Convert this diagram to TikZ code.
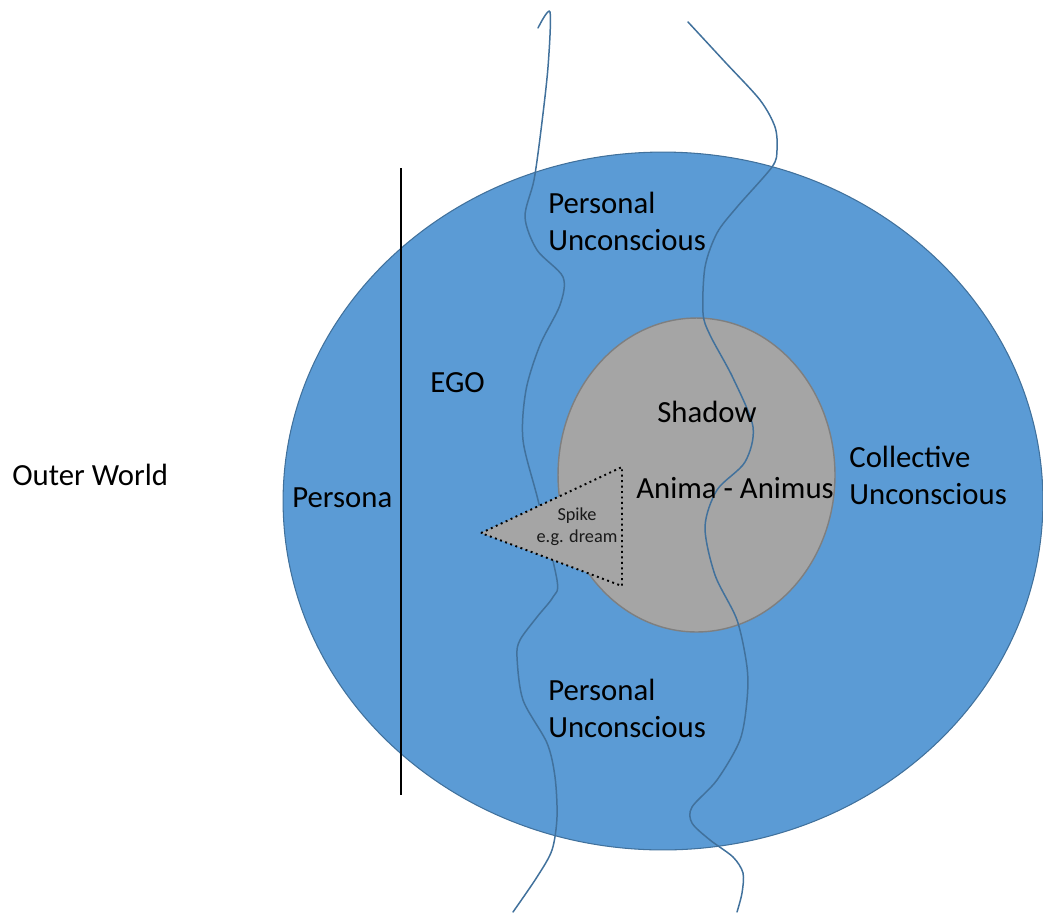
\documentclass[tikz,border=0pt]{standalone}
\usepackage{fontspec}
\setmainfont{Carlito}
\usetikzlibrary{shapes.geometric}
\definecolor{psyche}{HTML}{5B9BD5}
\definecolor{psycheedge}{HTML}{41719C}
\definecolor{core}{HTML}{A5A5A5}
\definecolor{coreedge}{HTML}{7F7F7F}
\tikzset{
  label text/.style={inner sep=0pt, align=left, font=\fontsize{17.5}{21}\selectfont, text=black},
  small text/.style={inner sep=0pt, align=center, font=\fontsize{10.4}{12.5}\selectfont, text=black!90},
  stream/.style={draw=psycheedge, line width=0.85pt, line cap=round},
  boundary/.style={draw=black, line width=1.2pt}
}
\begin{document}
\begin{tikzpicture}[x=0.02cm, y=-0.02cm]
  \useasboundingbox (0,0) rectangle (1043,913);

  % the psyche and its inner core
  \node (psyche) [ellipse, fill=psyche, draw=psycheedge, line width=0.6pt,
        minimum width=15.2cm, minimum height=13.96cm, inner sep=0pt] at (663,501) {};
  \node (core) [ellipse, fill=core, draw=coreedge, line width=0.8pt,
        minimum width=5.54cm, minimum height=6.28cm, inner sep=0pt] at (696.5,475) {};

  % streams running through the psyche
  \draw[stream] plot[smooth, tension=0.5] coordinates {
    (538,28) (550,12) (548,67) (541,130) (534,180) (525,217) (537,250) (563,277)
    (560,305) (540,345) (526,390) (523,440) (538,500) (557,580) (553,597)
    (537,617) (520,640) (517,657) (523,700) (547,743) (555,777) (557,817)
    (552,850) (537,877) (513,912)};
  \draw[stream] plot[smooth, tension=0.5] coordinates {
    (688,22) (725,62) (760,100) (775,127) (777,150) (772,167) (737,207)
    (717,233) (705,267) (703,313) (710,335) (733,378) (753,427) (745,462)
    (717,490) (705,527) (715,575) (737,620) (747,667) (747,700) (740,740)
    (717,780) (692,807) (692,823) (710,840) (733,857) (743,873) (742,893)
    (737,912)};

  % spike reaching out from the core
  \coordinate (tip) at (481,533);
  \coordinate (upper) at (622,467);
  \coordinate (lower) at (622,586);
  \draw[fill=core, draw=black, line width=1.1pt, dotted] (tip) -- (upper) -- (lower) -- cycle;
  \node (spike) [small text] at (577,527) {Spike\\ e.g. dream};

  % persona boundary
  \coordinate (persona top) at (401,168);
  \coordinate (persona bottom) at (401,795);
  \draw[boundary] (persona top) -- (persona bottom);

  % labels
  \node (outer) [label text, anchor=west] at (12,475) {Outer World};
  \node (persona) [label text, anchor=west] at (292,498) {Persona};
  \node (ego) [label text, anchor=west] at (430,383) {EGO};
  \node (pu top) [label text, anchor=west] at (548,221) {Personal\\Unconscious};
  \node (pu bottom) [label text, anchor=west] at (548,708) {Personal\\Unconscious};
  \node (shadow) [label text, anchor=west] at (657,412) {Shadow};
  \node (anima) [label text, anchor=west] at (636,488) {Anima - Animus};
  \node (collective) [label text, anchor=west] at (849,475) {Collective\\Unconscious};
\end{tikzpicture}
\end{document}
